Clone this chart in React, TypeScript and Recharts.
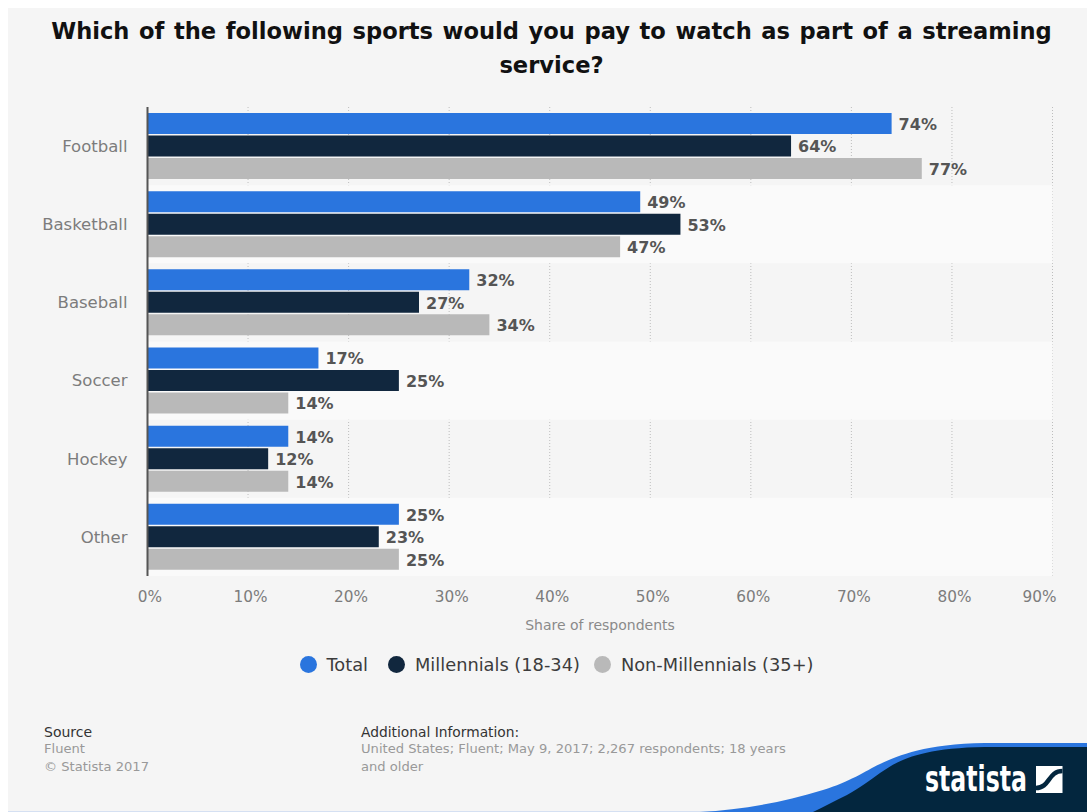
import { BarChart, Bar, XAxis, YAxis, CartesianGrid, LabelList, Legend, Label, ReferenceArea } from "recharts";

const FONT = "'DejaVu Sans', sans-serif";

const sports = ["Football", "Basketball", "Baseball", "Soccer", "Hockey", "Other"];
const total = [74, 49, 32, 17, 14, 25];
const millennials = [64, 53, 27, 25, 12, 23];
const nonMillennials = [77, 47, 34, 14, 14, 25];
const xTicks = [0, 10, 20, 30, 40, 50, 60, 70, 80, 90];
const stripedSports = ["Basketball", "Soccer", "Other"];

const data = sports.map((name, i) => ({
  name,
  total: total[i],
  millennials: millennials[i],
  nonMillennials: nonMillennials[i],
}));

const legendGaps = [20, 14, 0];

function LegendRow({ payload }: any) {
  return (
    <div style={{ display: "flex", alignItems: "center", fontFamily: FONT, fontSize: 17.8, color: "#3c3c3c", whiteSpace: "nowrap" }}>
      {(payload || []).map((item: any, i: number) => (
        <div key={item.value} style={{ display: "flex", alignItems: "center", marginRight: legendGaps[i] }}>
          <span style={{ width: 17, height: 17, borderRadius: "50%", background: item.color, marginRight: 10 }} />
          {item.value}
        </div>
      ))}
    </div>
  );
}

// the last tick label is pulled inside so it doesn't run past the plot
function PercentTick({ x, y, payload }: any) {
  const shift = payload.value === 90 ? -13 : 2.5;
  return (
    <text x={x + shift} y={y + 8} textAnchor="middle" dominantBaseline="central" fontFamily={FONT} fontSize={15.3} fill="#7c7c7c">
      {payload.value}%
    </text>
  );
}

function Text({ x, y, color, size = 13.1, children }: any) {
  return (
    <div style={{ position: "absolute", left: x, top: y, color, fontSize: size, lineHeight: "18px", fontFamily: FONT, whiteSpace: "nowrap" }}>
      {children}
    </div>
  );
}

export default function App() {
  const barLabel = { fontFamily: FONT, fontSize: 16, fontWeight: 700, fill: "#555555" };
  const renderLabels = () => (
    <LabelList position="right" offset={7} dy={0.7} formatter={(v: any) => `${v}%`} style={barLabel} />
  );

  return (
    <div style={{ position: "absolute", left: 0, top: 0, width: 1087, height: 812, overflow: "hidden", background: "#ffffff" }}>
      <div style={{ position: "absolute", left: 8, top: 8, right: 0, bottom: 1, background: "#f5f5f5" }} />
      <div style={{ position: "absolute", left: 8, right: 0, bottom: 0, height: 1, background: "#d5e0f2" }} />

      <div style={{ position: "absolute", left: 30, width: 1043, top: 14, textAlign: "center", fontFamily: FONT, fontWeight: 700, fontSize: 22.6, wordSpacing: 1.7, lineHeight: "34px", color: "#111111" }}>
        Which of the following sports would you pay to watch as part of a streaming service?
      </div>

      <div style={{ position: "absolute", left: 0, top: 0 }}>
        <BarChart
          width={1087}
          height={812}
          data={data}
          layout="vertical"
          margin={{ top: 107, right: 34.5, left: 0, bottom: 176 }}
          barCategoryGap={6}
          barGap={1.5}
        >
          {stripedSports.map((s) => (
            <ReferenceArea key={s} y1={s} y2={s} fill="#fafafa" fillOpacity={1} stroke="none" />
          ))}
          <CartesianGrid horizontal={false} stroke="#bdbdbd" strokeDasharray="1 2" />
          <XAxis
            type="number"
            domain={[0, 90]}
            ticks={xTicks}
            height={60}
            axisLine={false}
            tickLine={false}
            tickSize={0}
            tickMargin={13}
            tick={<PercentTick />}
          >
            <Label value="Share of respondents" position="insideBottom" offset={6} style={{ fontFamily: FONT, fontSize: 14, fill: "#8a8a8a" }} />
          </XAxis>
          <YAxis
            type="category"
            dataKey="name"
            width={147.5}
            tickLine={false}
            tickSize={0}
            tickMargin={20}
            axisLine={{ stroke: "#555555", strokeWidth: 2 }}
            tick={{ fontFamily: FONT, fontSize: 16.5, fill: "#7c7c7c" }}
          />
          <Legend
            verticalAlign="middle"
            align="center"
            itemSorter={null}
            content={<LegendRow />}
            wrapperStyle={{ position: "absolute", left: 299.5, width: 540, top: 653.5 }}
          />
          <Bar dataKey="total" name="Total" fill="#2a75de" isAnimationActive={false}>
            {renderLabels()}
          </Bar>
          <Bar dataKey="millennials" name="Millennials (18-34)" fill="#11273e" isAnimationActive={false}>
            {renderLabels()}
          </Bar>
          <Bar dataKey="nonMillennials" name="Non-Millennials (35+)" fill="#b9b9b9" isAnimationActive={false}>
            {renderLabels()}
          </Bar>
        </BarChart>
      </div>

      <Text x={44} y={723} color="#333333" size={14}>Source</Text>
      <Text x={44} y={740} color="#999999">Fluent</Text>
      <Text x={44} y={758} color="#999999">© Statista 2017</Text>
      <Text x={361} y={723} color="#333333" size={13.8}>Additional Information:</Text>
      <Text x={361} y={740} color="#999999">United States; Fluent; May 9, 2017; 2,267 respondents; 18 years</Text>
      <Text x={361} y={758} color="#999999">and older</Text>

      {/* footer wave and wordmark */}
      <svg width={1087} height={812} style={{ position: "absolute", left: 0, top: 0 }}>
        <path d="M700 812 C 740 810, 780 803, 823 790 C 850 782, 865 771, 880 764 C 900 755, 925 744, 985 743 L1087 743 L1087 812 Z" fill="#2a75de" />
        <path d="M813 812 C 825 806, 835 801, 847 795 C 860 788, 870 780, 880 773 C 895 763, 915 748, 985 747 L1087 747 L1087 812 Z" fill="#03263e" />
        <text x={925} y={791} fill="#ffffff" fontFamily="'Liberation Sans Narrow', 'DejaVu Sans Condensed', sans-serif" fontWeight={700} fontSize={35} textLength={102} lengthAdjust="spacingAndGlyphs">statista</text>
        <rect x={1036} y={766} width={26.5} height={27} fill="#ffffff" />
        <path d="M1036 788 C 1050 788, 1048 771, 1062.5 771" fill="none" stroke="#03263e" strokeWidth={4.5} />
      </svg>
    </div>
  );
}
